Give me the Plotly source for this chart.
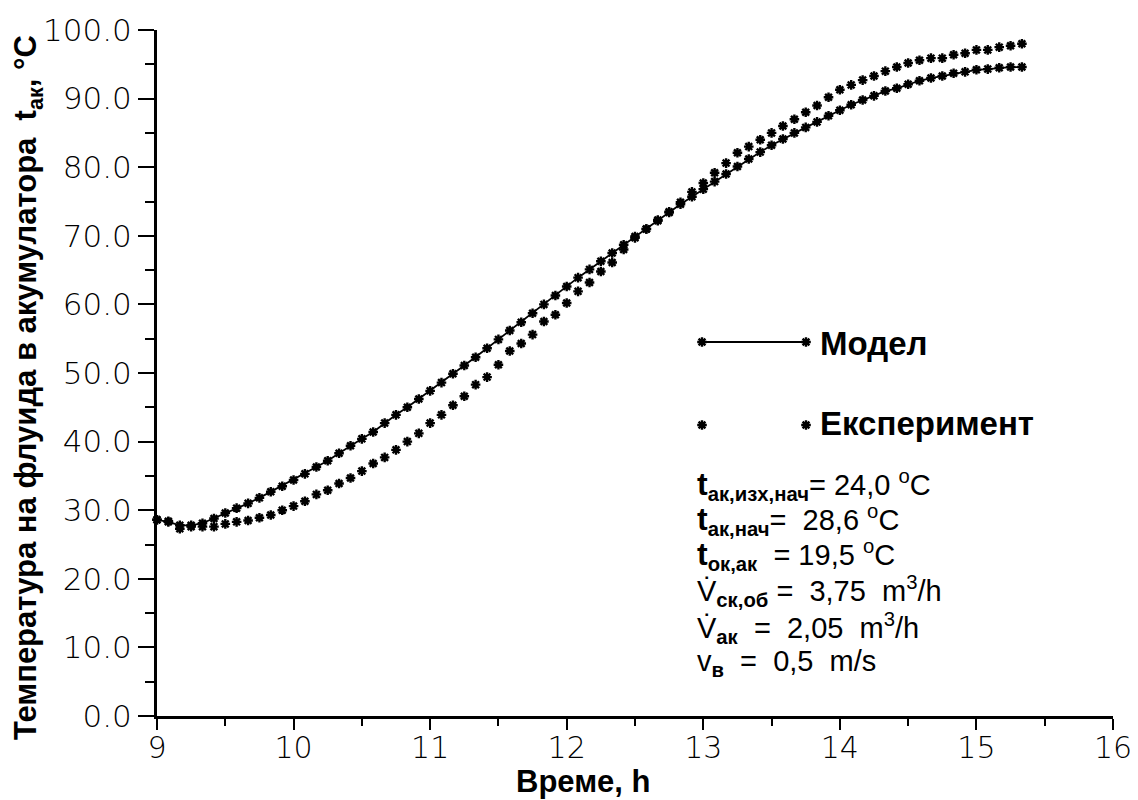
import plotly.graph_objects as go

# ---------------- data ----------------
time_h = [9.000, 9.083, 9.167, 9.250, 9.333, 9.417, 9.500, 9.583, 9.667, 9.750, 9.833, 9.917,
          10.000, 10.083, 10.167, 10.250, 10.333, 10.417, 10.500, 10.583, 10.667, 10.750, 10.833, 10.917,
          11.000, 11.083, 11.167, 11.250, 11.333, 11.417, 11.500, 11.583, 11.667, 11.750, 11.833, 11.917,
          12.000, 12.083, 12.167, 12.250, 12.333, 12.417, 12.500, 12.583, 12.667, 12.750, 12.833, 12.917,
          13.000, 13.083, 13.167, 13.250, 13.333, 13.417, 13.500, 13.583, 13.667, 13.750, 13.833, 13.917,
          14.000, 14.083, 14.167, 14.250, 14.333, 14.417, 14.500, 14.583, 14.667, 14.750, 14.833, 14.917,
          15.000, 15.083, 15.167, 15.250, 15.333]

model_t = [28.6, 28.3, 27.8, 27.8, 28.1, 28.8, 29.6, 30.3, 31.0, 31.8, 32.7, 33.5,
           34.4, 35.3, 36.3, 37.2, 38.3, 39.4, 40.4, 41.4, 42.7, 43.9, 45.0, 46.2,
           47.4, 48.6, 49.9, 51.1, 52.3, 53.6, 54.9, 56.2, 57.4, 58.7, 60.0, 61.3,
           62.6, 63.9, 65.1, 66.3, 67.5, 68.7, 69.9, 71.0, 72.2, 73.4, 74.6, 75.7,
           76.8, 77.9, 79.0, 80.1, 81.2, 82.2, 83.2, 84.1, 85.0, 85.8, 86.6, 87.5,
           88.3, 89.1, 89.8, 90.4, 91.1, 91.5, 92.1, 92.6, 93.0, 93.3, 93.7, 93.9,
           94.2, 94.3, 94.5, 94.6, 94.6]

exp_t = [28.6, 28.4, 27.3, 27.6, 27.6, 27.6, 28.0, 28.3, 28.5, 28.9, 29.3, 30.0,
         30.6, 31.3, 32.3, 32.9, 33.9, 34.7, 35.7, 36.8, 37.7, 38.8, 40.0, 41.2,
         42.7, 43.9, 45.3, 46.6, 48.3, 49.4, 51.2, 53.2, 54.3, 55.6, 57.5, 58.5,
         60.2, 61.9, 63.2, 64.8, 66.1, 68.0, 69.7, 71.0, 72.3, 73.5, 74.9, 76.4,
         77.7, 79.2, 80.6, 82.1, 83.0, 84.0, 85.0, 86.0, 87.0, 88.0, 89.0, 90.2,
         91.3, 92.0, 92.7, 93.3, 94.0, 94.6, 95.2, 95.6, 95.9, 95.9, 96.4, 96.6,
         97.1, 97.1, 97.5, 97.7, 98.0]

x_ticks = [9, 10, 11, 12, 13, 14, 15, 16]
x_minor = [9.5, 10.5, 11.5, 12.5, 13.5, 14.5, 15.5]
y_ticks = [0, 10, 20, 30, 40, 50, 60, 70, 80, 90, 100]
y_ticklabels = ["0.0", "10.0", "20.0", "30.0", "40.0", "50.0", "60.0", "70.0", "80.0", "90.0", "100.0"]
y_minor = [5, 15, 25, 35, 45, 55, 65, 75, 85, 95]

legend_labels = ["Модел", "Експеримент"]
T = "<span style='font-size:32px'>t</span>"
param_lines = [
    "<b>" + T + "<sub>ак,изх,нач</sub></b>= 24,0 <sup>o</sup>C",
    "<b>" + T + "<sub>ак,нач</sub></b>=\u00a0 28,6 <sup>o</sup>C",
    "<b>" + T + "<sub>ок,ак</sub></b>\u00a0 = 19,5 <sup>o</sup>C",
    "V\u0307<sub><b>ск,об</b></sub> =\u00a0 3,75\u00a0 m<sup>3</sup>/h",
    "V\u0307<sub><b>ак</b></sub>\u00a0 =\u00a0 2,05\u00a0 m<sup>3</sup>/h",
    "v<sub><b>в</b></sub>\u00a0 =\u00a0 0,5\u00a0 m/s",
]

# ---------------- geometry ----------------
# the page body has an 8px margin; compensate so the plot lands where the reference has it
OFF = 8
W, H = 1138 - OFF, 800 - OFF
ML, MR, MT, MB = 157 - OFF, 25, 30 - OFF, 84
PW, PH = W - ML - MR, H - MT - MB
X0, Y0 = 157, 716  # screen position of the plot's lower-left corner


def px_x(p):
    return (p - X0) / PW


def px_y(p):
    return (Y0 - p) / PH


tick_font_y = dict(family="DejaVu Sans", size=31, color="black", weight=200)
tick_font_x = dict(family="DejaVu Sans", size=30, color="black", weight=200)
bold_font = dict(family="Liberation Sans, Arial", size=31, color="black")
marker_style = dict(symbol="asterisk-open", size=8, color="black",
                    line=dict(width=2.4, color="black"))

fig = go.Figure()

fig.add_trace(go.Scatter(x=time_h, y=exp_t, mode="markers", marker=marker_style,
                         cliponaxis=False, showlegend=False, name=legend_labels[1]))
fig.add_trace(go.Scatter(x=time_h, y=model_t, mode="lines+markers", marker=marker_style,
                         line=dict(color="black", width=1.8),
                         cliponaxis=False, showlegend=False, name=legend_labels[0]))

# legend keys (on a hidden overlay axis spanning the plot area)
lk_x = [px_x(702), px_x(806)]
fig.add_trace(go.Scatter(x=lk_x, y=[px_y(342)] * 2, xaxis="x2", yaxis="y2",
                         mode="lines+markers", marker=marker_style,
                         line=dict(color="black", width=1.8),
                         cliponaxis=False, showlegend=False, hoverinfo="skip"))
fig.add_trace(go.Scatter(x=lk_x, y=[px_y(425)] * 2, xaxis="x2", yaxis="y2",
                         mode="markers", marker=marker_style,
                         cliponaxis=False, showlegend=False, hoverinfo="skip"))

legend_font = dict(family="Liberation Sans, Arial", size=33, color="black")
annotations = [
    dict(text="<b>" + legend_labels[0] + "</b>", x=px_x(818), y=px_y(343),
         xanchor="left", yanchor="middle", font=legend_font),
    dict(text="<b>" + legend_labels[1] + "</b>", x=px_x(818), y=px_y(423),
         xanchor="left", yanchor="middle", font=legend_font),
    dict(text="<b>Време, h</b>", x=px_x(583), y=px_y(781), xanchor="center", yanchor="middle",
         font=bold_font),
    dict(text="<b>Температура на флуида в акумулатора\u00a0 t<sub>ак</sub>, °C</b>",
         x=px_x(28), y=px_y(388), xanchor="center", yanchor="middle", textangle=-90,
         font=bold_font),
]
param_y = [485, 520, 555, 591, 628, 663]
for txt, py in zip(param_lines, param_y):
    annotations.append(dict(text=txt, x=px_x(695), y=px_y(py), xanchor="left", yanchor="middle",
                            font=dict(family="Liberation Sans, Arial", size=29, color="black")))
for a in annotations:
    a.update(xref="paper", yref="paper", showarrow=False, align="left")

fig.update_layout(
    width=W, height=H,
    margin=dict(l=ML, r=MR, t=MT, b=MB, autoexpand=False),
    paper_bgcolor="white", plot_bgcolor="white",
    xaxis=dict(range=[9, 16], tickvals=x_ticks, ticktext=[str(v) for v in x_ticks],
               ticks="outside", ticklen=11, tickwidth=2, tickcolor="black",
               ticklabelstandoff=-8,
               showline=True, linewidth=3, linecolor="black", showgrid=False, zeroline=False,
               tickfont=tick_font_x,
               minor=dict(tickvals=x_minor, ticks="outside", ticklen=7, tickwidth=2,
                          tickcolor="black", showgrid=False)),
    yaxis=dict(range=[0, 100], tickvals=y_ticks, ticktext=y_ticklabels,
               ticks="outside", ticklen=16, tickwidth=2, tickcolor="black",
               showline=True, linewidth=3, linecolor="black", showgrid=False, zeroline=False,
               tickfont=tick_font_y,
               minor=dict(tickvals=y_minor, ticks="outside", ticklen=9, tickwidth=2,
                          tickcolor="black", showgrid=False)),
    xaxis2=dict(overlaying="x", range=[0, 1], visible=False, anchor="y2"),
    yaxis2=dict(overlaying="y", range=[0, 1], visible=False, anchor="x2"),
    annotations=annotations,
    showlegend=False,
)

fig.write_html("out.html")
